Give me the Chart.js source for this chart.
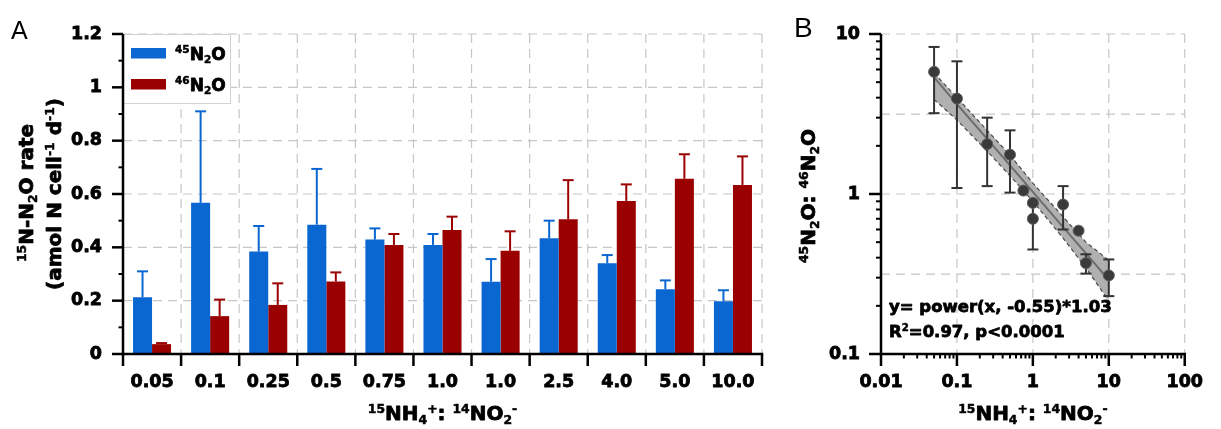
<!DOCTYPE html>
<html>
<head>
<meta charset="utf-8">
<script src="https://cdn.jsdelivr.net/npm/chart.js@4.4.1/dist/chart.umd.min.js"></script>
<style>
  html, body { margin: 0; padding: 0; background: #fff; width: 1221px; height: 429px; overflow: hidden; }
  #wrapA { position: absolute; left: 0; top: 0; }
  #wrapB { position: absolute; left: 780px; top: 0; }
</style>
</head>
<body>
<div id="wrapA"><canvas id="chartA" width="780" height="429"></canvas></div>
<div id="wrapB"><canvas id="chartB" width="441" height="429"></canvas></div>
<script>
// ---- panel A: 15N-N2O rates per 15NH4+:14NO2- ratio ----
const ratioLabels = ['0.05', '0.1', '0.25', '0.5', '0.75', '1.0', '1.0', '2.5', '4.0', '5.0', '10.0'];
const rate45 = [0.213, 0.567, 0.384, 0.485, 0.429, 0.409, 0.271, 0.434, 0.340, 0.243, 0.198];
const rate45Err = [0.097, 0.343, 0.096, 0.209, 0.042, 0.041, 0.085, 0.066, 0.031, 0.033, 0.041];
const rate46 = [0.037, 0.142, 0.184, 0.272, 0.409, 0.465, 0.387, 0.505, 0.574, 0.657, 0.634];
const rate46Err = [0.004, 0.062, 0.081, 0.034, 0.041, 0.050, 0.073, 0.147, 0.062, 0.092, 0.107];
const yTicksA = [0, 0.2, 0.4, 0.6, 0.8, 1, 1.2];
const yTickLabelsA = ['0', '0.2', '0.4', '0.6', '0.8', '1', '1.2'];
const legendLabels = ['^{45}N_{2}O', '^{46}N_{2}O'];

// ---- panel B: 45N2O:46N2O ratio vs 15NH4+:14NO2- ----
const ratioX = [0.05, 0.1, 0.25, 0.5, 0.75, 1.0, 1.0, 2.5, 4.0, 5.0, 10.0];
const ratioY = [5.8, 3.95, 2.05, 1.76, 1.05, 0.88, 0.70, 0.86, 0.59, 0.37, 0.31];
const ratioLow = [3.2, 1.09, 1.12, 1.02, 1.05, 0.88, 0.45, 0.60, 0.59, 0.318, 0.23];
const ratioHigh = [8.3, 6.75, 3.0, 2.5, 1.05, 0.88, 0.86, 1.12, 0.59, 0.42, 0.39];
const fitX = [0.05, 0.1, 0.25, 0.5, 1, 2.5, 5, 10];
const fitY = [5.35, 3.65, 2.21, 1.51, 1.03, 0.62, 0.425, 0.29];
const bandHigh = [5.7, 4.0, 2.5, 1.75, 1.17, 0.72, 0.5, 0.385];
const bandLow = [3.9, 2.9, 1.85, 1.3, 0.9, 0.53, 0.345, 0.215];
const xTicksB = [0.01, 0.1, 1, 10, 100];
const xTickLabelsB = ['0.01', '0.1', '1', '10', '100'];
const yTicksB = [0.1, 1, 10];
const yTickLabelsB = ['0.1', '1', '10'];
const yGridB = [0.316, 1, 3.16, 10];
const fitText = ['y= power(x, -0.55)*1.03', 'R^{2}=0.97, p<0.0001'];

const BLUE = '#0a66d1';
const RED = '#9a0000';
const GRID = '#c6c6c6';
const FAMILY = '"DejaVu Sans", sans-serif';
const tickFont = { family: FAMILY, size: 17.5, weight: 'bold' };
const tickStyle = { color: '#000', font: tickFont, textStrokeColor: '#000', textStrokeWidth: 0.8 };

// small helpers
function seg(ctx, x1, y1, x2, y2) {
  ctx.beginPath(); ctx.moveTo(x1, y1); ctx.lineTo(x2, y2); ctx.stroke();
}

// text with ^{sup} and _{sub} parts
function parseRich(s) {
  const runs = [];
  const re = /\^\{([^}]*)\}|_\{([^}]*)\}|([^^_]+)/g;
  let m;
  while ((m = re.exec(s))) {
    if (m[1] !== undefined) runs.push({ t: m[1], k: 'sup' });
    else if (m[2] !== undefined) runs.push({ t: m[2], k: 'sub' });
    else runs.push({ t: m[3], k: 'n' });
  }
  return runs;
}

function drawRich(ctx, s, x, y, size, align) {
  const runs = parseRich(s);
  let w = 0;
  runs.forEach(r => {
    r.sz = r.k === 'n' ? size : size * 0.62;
    ctx.font = 'bold ' + r.sz + 'px ' + FAMILY;
    r.w = ctx.measureText(r.t).width;
    w += r.w;
  });
  let cx = align === 'center' ? x - w / 2 : (align === 'right' ? x - w : x);
  ctx.textAlign = 'left';
  ctx.textBaseline = 'alphabetic';
  ctx.strokeStyle = '#000';
  ctx.lineJoin = 'round';
  ctx.setLineDash([]);
  runs.forEach(r => {
    ctx.font = 'bold ' + r.sz + 'px ' + FAMILY;
    const dy = r.k === 'sup' ? -size * 0.36 : (r.k === 'sub' ? size * 0.22 : 0);
    ctx.lineWidth = r.k === 'n' ? 0.8 : 0.5;
    ctx.fillText(r.t, cx, y + dy);
    ctx.strokeText(r.t, cx, y + dy);
    cx += r.w;
  });
}

function drawRotated(ctx, s, x, y, size) {
  ctx.save();
  ctx.translate(x, y);
  ctx.rotate(-Math.PI / 2);
  drawRich(ctx, s, 0, 0, size, 'center');
  ctx.restore();
}

function panelLetter(ctx, letter, x, y, size) {
  ctx.save();
  ctx.fillStyle = '#000';
  ctx.font = size + 'px "Liberation Sans", Arial, sans-serif';
  ctx.textAlign = 'left';
  ctx.textBaseline = 'alphabetic';
  ctx.fillText(letter, x, y);
  ctx.restore();
}

// ---- panel A plugin: grid, error bars, axes, legend, titles ----
const frameA = {
  id: 'frameA',
  beforeDraw(chart) {
    const { ctx, chartArea: a, scales: { y } } = chart;
    const n = ratioLabels.length;
    ctx.save();
    ctx.strokeStyle = GRID; ctx.lineWidth = 1.2; ctx.setLineDash([9, 6]);
    yTicksA.forEach(v => {
      if (v === 0) return;
      const py = y.getPixelForValue(v);
      seg(ctx, a.left, py, a.right, py);
    });
    for (let k = 1; k <= n; k++) {
      const px = a.left + k * a.width / n;
      seg(ctx, px, a.top, px, a.bottom);
    }
    ctx.restore();
  },
  afterDatasetsDraw(chart) {
    const { ctx, chartArea: a, scales: { y } } = chart;
    const n = ratioLabels.length;
    ctx.save();

    // upper error bars
    [rate45Err, rate46Err].forEach((errs, d) => {
      const meta = chart.getDatasetMeta(d);
      const vals = chart.data.datasets[d].data;
      ctx.strokeStyle = chart.data.datasets[d].backgroundColor;
      ctx.lineWidth = 2;
      meta.data.forEach((bar, i) => {
        const y0 = y.getPixelForValue(vals[i]);
        const y1 = y.getPixelForValue(vals[i] + errs[i]);
        seg(ctx, bar.x, y0, bar.x, y1);
        seg(ctx, bar.x - 5.5, y1, bar.x + 5.5, y1);
      });
    });

    // legend
    ctx.fillStyle = '#fff';
    ctx.strokeStyle = '#d2d2d2'; ctx.lineWidth = 1;
    ctx.fillRect(a.left, a.top, 107, 69);
    ctx.strokeRect(a.left + 0.5, a.top + 0.5, 107, 69);
    [BLUE, RED].forEach((c, i) => {
      ctx.fillStyle = c;
      ctx.fillRect(a.left + 8, a.top + 14 + i * 31, 35, 10.5);
      ctx.fillStyle = '#000';
      drawRich(ctx, legendLabels[i], a.left + 52, a.top + 25.5 + i * 31, 17, 'left');
    });

    // axes
    ctx.strokeStyle = '#000'; ctx.lineWidth = 2.5; ctx.setLineDash([]);
    seg(ctx, a.left, a.top, a.left, a.bottom);
    seg(ctx, a.left - 1.25, a.bottom, a.right + 1.25, a.bottom);
    for (let k = 0; k <= n; k++) {
      const px = a.left + k * a.width / n;
      seg(ctx, px, a.bottom, px, a.bottom + 12);
    }
    yTicksA.forEach((v, i) => {
      const py = y.getPixelForValue(v);
      seg(ctx, a.left - 11, py, a.left, py);
      if (i < yTicksA.length - 1) {
        const pm = y.getPixelForValue((v + yTicksA[i + 1]) / 2);
        ctx.lineWidth = 2;
        seg(ctx, a.left - 4.5, pm, a.left, pm);
        ctx.lineWidth = 2.5;
      }
    });

    // titles
    ctx.fillStyle = '#000';
    drawRich(ctx, '^{15}NH_{4}^{+}: ^{14}NO_{2}^{-}', (a.left + a.right) / 2, 420, 20, 'center');
    drawRotated(ctx, '^{15}N-N_{2}O rate', 33, 193, 20);
    drawRotated(ctx, '(amol N cell^{-1} d^{-1})', 61, 194, 20);
    ctx.restore();
    panelLetter(ctx, 'A', 11, 39, 25);
  }
};

// ---- panel B plugin ----
const frameB = {
  id: 'frameB',
  beforeDraw(chart) {
    const { ctx, chartArea: a, scales: { x, y } } = chart;
    ctx.save();
    ctx.strokeStyle = GRID; ctx.lineWidth = 1.2; ctx.setLineDash([9, 6]);
    yGridB.forEach(v => {
      const py = y.getPixelForValue(v);
      seg(ctx, a.left, py, a.right, py);
    });
    xTicksB.forEach(v => {
      const px = x.getPixelForValue(v);
      if (px <= a.left + 1) return;
      seg(ctx, px, a.top, px, a.bottom);
    });
    ctx.restore();
  },
  beforeDatasetDraw(chart, args) {
    if (args.index !== 3) return;
    const { ctx, scales: { x, y } } = chart;
    ctx.save();
    ctx.strokeStyle = '#333'; ctx.lineWidth = 2;
    ratioX.forEach((v, i) => {
      if (ratioHigh[i] === ratioLow[i]) return;
      const px = x.getPixelForValue(v);
      const pLo = y.getPixelForValue(ratioLow[i]);
      const pHi = y.getPixelForValue(ratioHigh[i]);
      seg(ctx, px, pLo, px, pHi);
      seg(ctx, px - 5.5, pLo, px + 5.5, pLo);
      seg(ctx, px - 5.5, pHi, px + 5.5, pHi);
    });
    ctx.restore();
  },
  afterDatasetsDraw(chart) {
    const { ctx, chartArea: a, scales: { x, y } } = chart;
    ctx.save();
    ctx.strokeStyle = '#000'; ctx.lineWidth = 2.5; ctx.setLineDash([]);
    seg(ctx, a.left, a.top, a.left, a.bottom);
    seg(ctx, a.left - 1.25, a.bottom, a.right + 1.25, a.bottom);
    xTicksB.forEach(v => {
      const px = x.getPixelForValue(v);
      seg(ctx, px, a.bottom, px, a.bottom + 12);
    });
    yTicksB.forEach(v => {
      const py = y.getPixelForValue(v);
      seg(ctx, a.left - 12, py, a.left, py);
    });
    ctx.lineWidth = 2;
    xTicksB.slice(0, -1).forEach(d => {
      for (let k = 2; k <= 9; k++) {
        const px = x.getPixelForValue(d * k);
        seg(ctx, px, a.bottom, px, a.bottom + 4.5);
      }
    });
    yTicksB.slice(0, -1).forEach(d => {
      for (let k = 2; k <= 9; k++) {
        const py = y.getPixelForValue(d * k);
        seg(ctx, a.left - 5, py, a.left, py);
      }
    });

    ctx.fillStyle = '#000';
    drawRich(ctx, fitText[0], a.left + 8, 312, 16.5, 'left');
    drawRich(ctx, fitText[1], a.left + 8, 337, 16.5, 'left');
    drawRich(ctx, '^{15}NH_{4}^{+}: ^{14}NO_{2}^{-}', (a.left + a.right) / 2, 420, 20, 'center');
    drawRotated(ctx, '^{45}N_{2}O: ^{46}N_{2}O', 35, 196, 20);
    ctx.restore();
    panelLetter(ctx, 'B', 14, 37, 28);
  }
};

// ---- chart A ----
new Chart(document.getElementById('chartA'), {
  type: 'bar',
  data: {
    labels: ratioLabels,
    datasets: [
      { label: '45N2O', data: rate45, backgroundColor: BLUE, categoryPercentage: 0.655, barPercentage: 1 },
      { label: '46N2O', data: rate46, backgroundColor: RED, categoryPercentage: 0.655, barPercentage: 1 }
    ]
  },
  options: {
    responsive: false,
    animation: false,
    events: [],
    layout: { padding: { top: 34, right: 18, left: 0, bottom: 0 } },
    plugins: { legend: { display: false }, tooltip: { enabled: false } },
    scales: {
      x: {
        grid: { display: false, drawTicks: false },
        border: { display: false },
        ticks: { ...tickStyle, padding: 18, autoSkip: false, maxRotation: 0 },
        afterFit: s => { s.height = 75; }
      },
      y: {
        min: 0, max: 1.2,
        grid: { display: false, drawTicks: false },
        border: { display: false },
        afterBuildTicks: s => { s.ticks = yTicksA.map(v => ({ value: v })); },
        ticks: { ...tickStyle, padding: 21, callback: (v, i) => yTickLabelsA[i] },
        afterFit: s => { s.width = 123; }
      }
    }
  },
  plugins: [frameA]
});

// ---- chart B ----
const pts = (xs, ys) => xs.map((v, i) => ({ x: v, y: ys[i] }));
new Chart(document.getElementById('chartB'), {
  type: 'scatter',
  data: {
    datasets: [
      { data: pts(fitX, bandHigh), showLine: true, pointRadius: 0, borderColor: '#4a4a4a', borderWidth: 1.2,
        borderDash: [4, 3], fill: '+1', backgroundColor: '#b0b0b0', order: 3 },
      { data: pts(fitX, bandLow), showLine: true, pointRadius: 0, borderColor: '#4a4a4a', borderWidth: 1.2,
        borderDash: [4, 3], fill: false, order: 3 },
      { data: pts(fitX, fitY), showLine: true, pointRadius: 0, borderColor: '#6d6d6d', borderWidth: 2, order: 2 },
      { data: pts(ratioX, ratioY), pointRadius: 5.5, backgroundColor: '#3a3a3a', borderColor: '#5c5c5c',
        borderWidth: 1, order: 1 }
    ]
  },
  options: {
    responsive: false,
    animation: false,
    events: [],
    layout: { padding: { top: 34, right: 20, left: 0, bottom: 0 } },
    plugins: { legend: { display: false }, tooltip: { enabled: false }, filler: { drawTime: 'beforeDatasetsDraw' } },
    scales: {
      x: {
        type: 'logarithmic', min: 0.01, max: 100,
        grid: { display: false, drawTicks: false },
        border: { display: false },
        afterBuildTicks: s => { s.ticks = xTicksB.map(v => ({ value: v })); },
        ticks: { ...tickStyle, padding: 18, autoSkip: false, maxRotation: 0,
                 callback: (v, i) => xTickLabelsB[i] },
        afterFit: s => { s.height = 75; }
      },
      y: {
        type: 'logarithmic', min: 0.1, max: 10,
        grid: { display: false, drawTicks: false },
        border: { display: false },
        afterBuildTicks: s => { s.ticks = yTicksB.map(v => ({ value: v })); },
        ticks: { ...tickStyle, padding: 21, callback: (v, i) => yTickLabelsB[i] },
        afterFit: s => { s.width = 101; }
      }
    }
  },
  plugins: [frameB]
});
</script>
</body>
</html>
